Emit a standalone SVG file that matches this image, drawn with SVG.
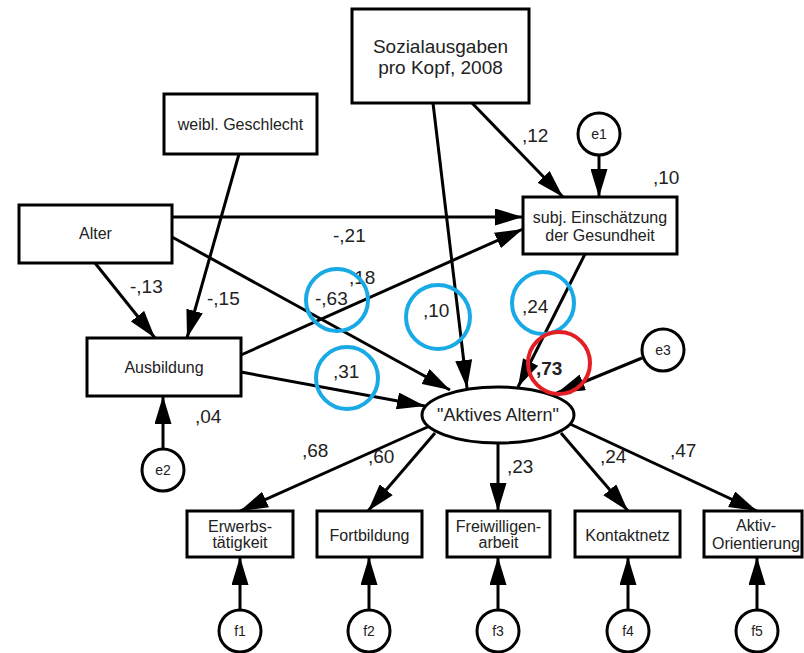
<svg xmlns="http://www.w3.org/2000/svg" width="804" height="653" viewBox="0 0 804 653">
<defs>
<marker id="ah" markerUnits="userSpaceOnUse" markerWidth="28" markerHeight="17" refX="28" refY="8.5" orient="auto">
<path d="M0,0 L28,8.5 L0,17 z" fill="#000"/>
</marker>
<style>
.box{fill:#fff;stroke:#000;stroke-width:3}
.ln{stroke:#000;stroke-width:3;fill:none;marker-end:url(#ah)}
.t{font-family:"Liberation Sans",Arial,sans-serif;fill:#222;text-anchor:middle}
.bt{font-size:16px}
.ct{font-size:14px}
.num{font-family:"Liberation Sans",Arial,sans-serif;font-size:19px;fill:#222}
.blue{fill:none;stroke:#19a9e5;stroke-width:4}
.red{fill:none;stroke:#e31e24;stroke-width:4}
</style>
</defs>
<rect width="804" height="653" fill="#fff"/>
<g id="connectors">
<line class="ln" x1="472" y1="103" x2="563" y2="197"/>
<line class="ln" x1="433" y1="103" x2="467" y2="388"/>
<line class="ln" x1="599" y1="156" x2="599" y2="197"/>
<line class="ln" x1="172" y1="217" x2="523" y2="217"/>
<line class="ln" x1="172" y1="237" x2="450" y2="390"/>
<line class="ln" x1="241" y1="355" x2="523" y2="229"/>
<line class="ln" x1="241" y1="372" x2="425" y2="406"/>
<line class="ln" x1="95" y1="263" x2="155" y2="338"/>
<line class="ln" x1="239" y1="154" x2="187" y2="338"/>
<line class="ln" x1="163" y1="449" x2="163" y2="396"/>
<line class="ln" x1="585" y1="254" x2="518" y2="387"/>
<line class="ln" x1="642" y1="358" x2="557" y2="393"/>
<line class="ln" x1="432" y1="425" x2="240" y2="511"/>
<line class="ln" x1="435" y1="433" x2="368" y2="511"/>
<line class="ln" x1="498" y1="443" x2="498" y2="511"/>
<line class="ln" x1="561" y1="433" x2="628" y2="511"/>
<line class="ln" x1="570" y1="424" x2="757" y2="511"/>
<line class="ln" x1="240" y1="610" x2="240" y2="557"/>
<line class="ln" x1="369" y1="610" x2="369" y2="557"/>
<line class="ln" x1="498" y1="610" x2="498" y2="557"/>
<line class="ln" x1="628" y1="610" x2="628" y2="557"/>
<line class="ln" x1="757" y1="610" x2="757" y2="557"/>
</g>
<g id="sozial"><rect class="box" x="352" y="9" width="177" height="94"/>
<text class="t" x="440.5" y="53" font-size="19">Sozialausgaben</text>
<text class="t" x="440.5" y="74" font-size="19">pro Kopf, 2008</text></g>
<g id="geschlecht"><rect class="box" x="164" y="94" width="153" height="60"/>
<text class="t bt" x="240.5" y="130">weibl. Geschlecht</text></g>
<g id="alter"><rect class="box" x="19" y="205" width="153" height="58"/>
<text class="t bt" x="95.5" y="239">Alter</text></g>
<g id="ausbildung"><rect class="box" x="87" y="338" width="154" height="58"/>
<text class="t bt" x="164" y="373">Ausbildung</text></g>
<g id="gesundheit"><rect class="box" x="523" y="197" width="154" height="57"/>
<text class="t bt" x="600" y="223">subj. Einschätzung</text>
<text class="t bt" x="600" y="241">der Gesundheit</text></g>
<g id="e1"><circle class="box" cx="599" cy="134" r="21"/><text class="t ct" x="599" y="139">e1</text></g>
<g id="e2"><circle class="box" cx="163" cy="470" r="21"/><text class="t ct" x="163" y="475">e2</text></g>
<g id="e3"><circle class="box" cx="663" cy="350" r="21"/><text class="t ct" x="663" y="355">e3</text></g>
<g id="aktiv"><ellipse class="box" cx="498" cy="415" rx="76" ry="28"/>
<text class="t" x="498" y="421" font-size="18">"Aktives Altern"</text></g>
<g id="erwerb"><rect class="box" x="187" y="511" width="106" height="46"/>
<text class="t bt" x="240" y="532">Erwerbs-</text><text class="t bt" x="240" y="548">tätigkeit</text></g>
<g id="fortbildung"><rect class="box" x="317" y="511" width="105" height="46"/>
<text class="t bt" x="369.5" y="541">Fortbildung</text></g>
<g id="freiwillig"><rect class="box" x="447" y="511" width="103" height="46"/>
<text class="t bt" x="498.5" y="532">Freiwilligen-</text><text class="t bt" x="498.5" y="548">arbeit</text></g>
<g id="kontakt"><rect class="box" x="575" y="511" width="105" height="46"/>
<text class="t bt" x="627.5" y="541">Kontaktnetz</text></g>
<g id="orient"><rect class="box" x="704" y="511" width="98" height="46"/>
<text class="t bt" x="756" y="531">Aktiv-</text><text class="t bt" x="756" y="549">Orientierung</text></g>
<g id="f1"><circle class="box" cx="240" cy="631" r="21"/><text class="t ct" x="240" y="636">f1</text></g>
<g id="f2"><circle class="box" cx="369" cy="631" r="21"/><text class="t ct" x="369" y="636">f2</text></g>
<g id="f3"><circle class="box" cx="498" cy="631" r="21"/><text class="t ct" x="498" y="636">f3</text></g>
<g id="f4"><circle class="box" cx="628" cy="631" r="21"/><text class="t ct" x="628" y="636">f4</text></g>
<g id="f5"><circle class="box" cx="757" cy="631" r="21"/><text class="t ct" x="757" y="636">f5</text></g>
<g id="labels">
<text class="num" x="522" y="142">,12</text>
<text class="num" x="653" y="184">,10</text>
<text class="num" x="333" y="242">-,21</text>
<text class="num" x="130" y="293">-,13</text>
<text class="num" x="207" y="305">-,15</text>
<text class="num" x="349" y="284">,18</text>
<text class="num" x="315" y="305">-,63</text>
<text class="num" x="333" y="378">,31</text>
<text class="num" x="195" y="423">,04</text>
<text class="num" x="423" y="317">,10</text>
<text class="num" x="522" y="313">,24</text>
<text class="num" x="536" y="375" font-weight="bold" font-size="22">,73</text>
<text class="num" x="302" y="457">,68</text>
<text class="num" x="368" y="463">,60</text>
<text class="num" x="507" y="473">,23</text>
<text class="num" x="600" y="463">,24</text>
<text class="num" x="670" y="457">,47</text>
</g>
<g id="highlights">
<circle class="blue" cx="337" cy="300" r="31"/>
<circle class="blue" cx="347" cy="378" r="31"/>
<circle class="blue" cx="438" cy="317" r="32"/>
<circle class="blue" cx="543" cy="303" r="31"/>
<circle class="red" cx="559" cy="363" r="31"/>
</g>
</svg>
